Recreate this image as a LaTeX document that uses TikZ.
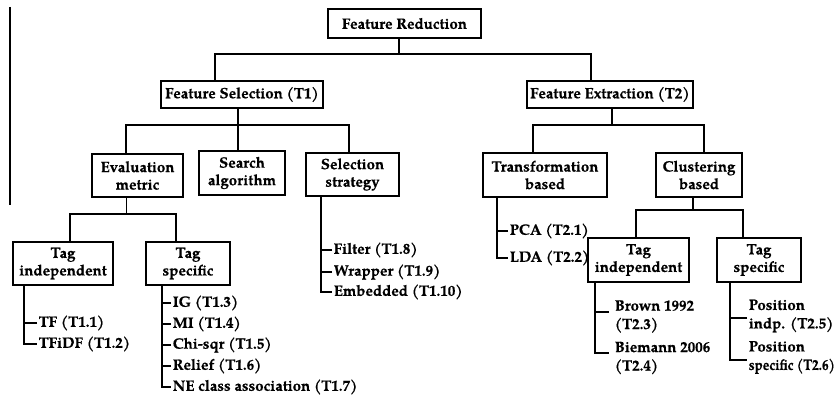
\documentclass[tikz,border=0pt]{standalone}
\usepackage{fontspec}
\setmainfont{texgyrepagella-regular.otf}[BoldFont=texgyrepagella-bold.otf,BoldFeatures={FakeBold=0.6}]
\usetikzlibrary{calc}
\begin{document}
\begin{tikzpicture}[x=1pt,y=-1pt,line width=1.6pt,
  box/.style={draw,line width=1.7pt,inner sep=0pt,align=center,
    font=\bfseries\fontsize{15}{17.5}\selectfont},
  leaf/.style={inner sep=1pt,anchor=west,align=left,
    font=\bfseries\fontsize{15}{18.5}\selectfont}]
\useasboundingbox (0,0) rectangle (838,403);
\fill[white] (0,0) rectangle (838,403);
% left rule
\coordinate (ra) at (10,7);
\coordinate (rb) at (10,205);
\draw[line width=1.2pt] (ra) -- (rb);
% boxes
\node[box,minimum width=153pt,minimum height=29pt] (fr) at (404.5,23.5) {Feature Reduction};
\node[box,minimum width=162pt,minimum height=27pt] (fs) at (242,94.5) {Feature Selection (T1)};
\node[box,minimum width=166pt,minimum height=27pt] (fe) at (610,94.5) {Feature Extraction (T2)};
\node[box,minimum width=91pt,minimum height=43pt] (em) at (137.5,175.5) {Evaluation\\metric};
\node[box,minimum width=86pt,minimum height=44pt] (sa) at (242,173) {Search\\algorithm};
\node[box,minimum width=93pt,minimum height=43pt] (ss) at (352.5,174.5) {Selection\\strategy};
\node[box,minimum width=124pt,minimum height=44pt] (tb) at (545,175) {Transformation\\based};
\node[box,minimum width=86pt,minimum height=44pt] (cb) at (699,175) {Clustering\\based};
\node[box,minimum width=100pt,minimum height=43pt] (ti1) at (63,263.5) {Tag\\independent};
\node[box,minimum width=84pt,minimum height=43pt] (ts1) at (188,263.5) {Tag\\specific};
\node[box,minimum width=101pt,minimum height=44pt] (ti2) at (638.5,260) {Tag\\independent};
\node[box,minimum width=84pt,minimum height=44pt] (ts2) at (759,260) {Tag\\specific};
% tree connectors
\draw ([xshift=-5.5pt]fr.south) -- ++(0,15) coordinate (frb);
\draw ([xshift=-27pt]fs.north) |- (frb) -| ([xshift=-19pt]fe.north);
\draw ([xshift=-4pt]fs.south) -- ++(0,16) coordinate (fsb);
\draw ([xshift=-11.5pt]em.north) |- (fsb) -| ([xshift=-3.5pt]ss.north);
\draw (fsb) -- ([xshift=-4pt]sa.north);
\draw ([xshift=2pt]fe.south) -- ++(0,16) coordinate (feb);
\draw ([xshift=-12pt]tb.north) |- (feb) -| ([xshift=5pt]cb.north);
\draw ([xshift=-11pt]em.south) -- ++(0,16) coordinate (emb);
\draw ([xshift=7pt]ti1.north) |- (emb) -| ([xshift=-12pt]ts1.north);
\draw ([xshift=-6pt]cb.south) -- ++(0,12) coordinate (cbb);
\draw ([xshift=-2.5pt]ti2.north) |- (cbb) -| ([xshift=-16pt]ts2.north);
% leaves: tag independent (left)
\node[leaf] (tf) at (37,323) {TF (T1.1)};
\node[leaf] (tfidf) at (37,344) {TFiDF (T1.2)};
\coordinate (t1) at ([xshift=-39pt]ti1.south);
\draw (t1) |- (tfidf.west);
\draw (tf.west) -- (tf.west -| t1);
% leaves: tag specific (left)
\node[leaf] (ig) at (171,303) {IG (T1.3)};
\node[leaf] (mi) at (171,324) {MI (T1.4)};
\node[leaf] (chi) at (171,345) {Chi-sqr (T1.5)};
\node[leaf] (rel) at (171,366) {Relief (T1.6)};
\node[leaf] (ne) at (171,387) {NE class association (T1.7)};
\coordinate (t2) at ([xshift=-26pt]ts1.south);
\draw (t2) |- (ne.west);
\foreach \n in {ig,mi,chi,rel} \draw (\n.west) -- (\n.west -| t2);
% leaves: selection strategy
\node[leaf] (fil) at (332,250) {Filter (T1.8)};
\node[leaf] (wra) at (332,272) {Wrapper (T1.9)};
\node[leaf] (emb1) at (332,292) {Embedded (T1.10)};
\coordinate (t3) at ([xshift=-31.5pt]ss.south);
\draw (t3) |- (emb1.west);
\foreach \n in {fil,wra} \draw (\n.west) -- (\n.west -| t3);
% leaves: transformation based
\node[leaf] (pca) at (508,231) {PCA (T2.1)};
\node[leaf] (lda) at (508,258) {LDA (T2.2)};
\coordinate (t4) at ([xshift=-48pt]tb.south);
\draw (t4) |- (lda.west);
\draw (pca.west) -- (pca.west -| t4);
% leaves: tag independent (right)
\node[leaf] (bro) at (613,316.5) {Brown 1992\\(T2.3)};
\node[leaf] (bie) at (613,358) {Biemann 2006\\(T2.4)};
\coordinate (t5) at ([xshift=-43.5pt]ti2.south);
\draw (t5) |- ([xshift=-4pt,yshift=5pt]bie.west);
\draw ([xshift=-4pt,yshift=4.5pt]bro.west) -- ([yshift=4.5pt]bro.west -| t5);
% leaves: tag specific (right)
\node[leaf] (pin) at (747,316) {Position\\indp. (T2.5)};
\node[leaf] (psp) at (747,357.5) {Position\\\scalebox{0.88}[1]{specific (T2.6)}};
\coordinate (t6) at ([xshift=-29pt]ts2.south);
\draw (t6) |- ([yshift=-2.5pt]psp.west);
\draw ([yshift=-2pt]pin.west) -- ([yshift=-2pt]pin.west -| t6);
\end{tikzpicture}
\end{document}
